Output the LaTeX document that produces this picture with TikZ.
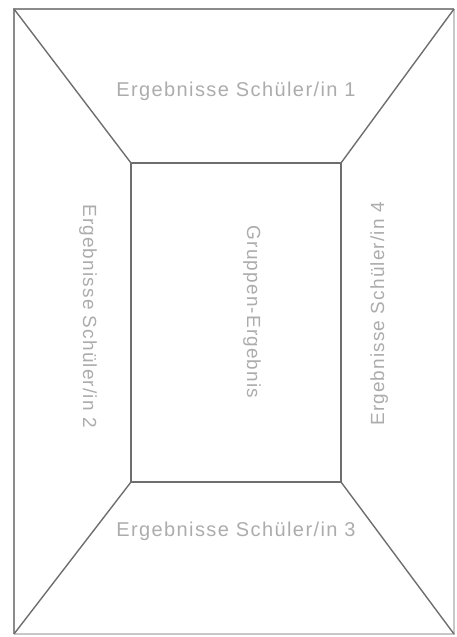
\documentclass[tikz,border=0pt]{standalone}
\usepackage{fontspec}
\usepackage{xcolor}
\usepackage{tikz}
\newfontfamily\labelfont[LetterSpace=7]{Liberation Sans}
\newfontfamily\sidefont[LetterSpace=6]{Liberation Sans}
\definecolor{wallgray}{RGB}{110,110,110}
\definecolor{rimgray}{RGB}{200,200,200}
\definecolor{textgray}{RGB}{172,172,172}
\tikzset{
  wall/.style={draw=wallgray, line width=1.4pt},
  fieldlabel/.style={text=textgray, inner sep=0pt, anchor=base, font=\labelfont\fontsize{20}{20}\selectfont},
  sidelabel/.style={fieldlabel, font=\sidefont\fontsize{19}{19}\selectfont}
}

\begin{document}
\begin{tikzpicture}[x=1pt, y=-1pt]
		\useasboundingbox (0,0) rectangle (456,637);

		\coordinate (otl) at (14,9);
		\coordinate (otr) at (454,9);
		\coordinate (obl) at (14,634);
		\coordinate (obr) at (454,634);

		\coordinate (itl) at (131,163);
		\coordinate (itr) at (341,163);
		\coordinate (ibl) at (131,482);
		\coordinate (ibr) at (341,482);

		% outer frame
		\draw[rimgray, line width=1.2pt] (otr) -- (obr) -- (obl);
		\draw[draw=wallgray!80, line width=1.4pt] (obl) -- (otl) -- (otr);

		% inner room
		\draw[wall] (itl) rectangle (ibr);
		\draw[wall] (otl) -- (itl);
		\draw[wall] (otr) -- (itr);
		\draw[wall] (obl) -- (ibl);
		\draw[wall] (obr) -- (ibr);

		\node[fieldlabel] (s1) at (236,96) {Ergebnisse Schüler/in 1};
		\node[sidelabel, rotate=-90] (s2) at (83,316) {Ergebnisse Schüler/in 2};
		\node[fieldlabel] (s3) at (236,536) {Ergebnisse Schüler/in 3};
		\node[sidelabel, rotate=90] (s4) at (384,314) {Ergebnisse Schüler/in 4};
		\node[sidelabel, rotate=-90] (grp) at (247,312) {Gruppen-Ergebnis};
	\end{tikzpicture}
\end{document}
